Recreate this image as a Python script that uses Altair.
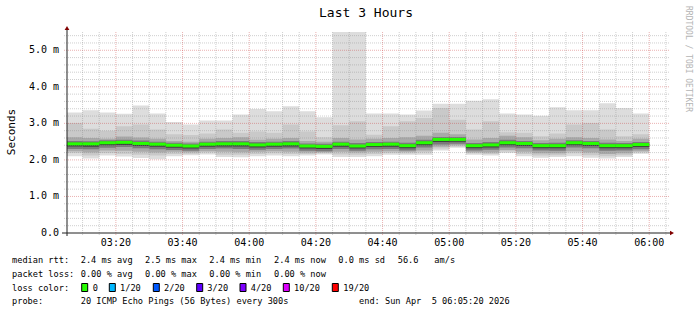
import altair as alt
import pandas as pd

FONT = "DejaVu Sans Mono"

# ---------------- data ----------------
bar_start = ["03:05", "03:10", "03:15", "03:20", "03:25", "03:30", "03:35", "03:40", "03:45",
             "03:50", "03:55", "04:00", "04:05", "04:10", "04:15", "04:20", "04:25", "04:30",
             "04:35", "04:40", "04:45", "04:50", "04:55", "05:00", "05:05", "05:10", "05:15",
             "05:20", "05:25", "05:30", "05:35", "05:40", "05:45", "05:50", "05:55"]

# median rtt (ms)
med = [2.44, 2.44, 2.47, 2.48, 2.45, 2.43, 2.40, 2.38, 2.43, 2.44, 2.44, 2.41, 2.43, 2.44, 2.38,
       2.37, 2.43, 2.38, 2.42, 2.43, 2.39, 2.47, 2.56, 2.56, 2.39, 2.41, 2.47, 2.45, 2.39, 2.39,
       2.47, 2.45, 2.39, 2.39, 2.42]
# smoke bands (ms): outermost -> innermost
p_max = [3.30, 3.36, 3.30, 3.26, 3.49, 3.27, 3.04, 2.97, 3.08, 3.08, 3.24, 3.39, 3.33, 3.47, 3.33,
         3.17, 5.52, 5.52, 3.27, 3.27, 3.24, 3.35, 3.54, 3.54, 3.62, 3.66, 3.27, 3.24, 3.21, 3.44,
         3.36, 3.36, 3.55, 3.42, 3.27]
p_min = [2.10, 2.04, 2.12, 2.09, 2.05, 2.02, 2.10, 2.13, 2.15, 2.08, 2.07, 2.10, 2.12, 2.10, 2.12,
         2.15, 2.08, 2.08, 2.10, 2.14, 2.14, 2.14, 2.26, 2.33, 2.14, 2.12, 2.19, 2.10, 2.06, 2.08,
         2.10, 2.06, 2.04, 2.08, 2.17]
hi2 = [3.01, 2.85, 2.80, 2.92, 2.97, 2.83, 2.70, 2.68, 2.72, 2.83, 2.74, 2.78, 2.74, 2.97, 2.78,
       2.62, 2.95, 3.06, 2.69, 2.92, 3.06, 3.15, 3.42, 3.10, 2.83, 3.06, 2.76, 2.74, 2.65, 2.72,
       2.97, 3.01, 2.83, 2.65, 2.70]
lo2 = [2.19, 2.12, 2.19, 2.17, 2.14, 2.12, 2.16, 2.17, 2.20, 2.14, 2.14, 2.16, 2.18, 2.16, 2.16,
       2.18, 2.15, 2.14, 2.16, 2.19, 2.18, 2.20, 2.31, 2.36, 2.18, 2.16, 2.23, 2.16, 2.12, 2.13,
       2.18, 2.13, 2.10, 2.13, 2.20]
hi3 = [2.62, 2.60, 2.58, 2.64, 2.61, 2.58, 2.52, 2.50, 2.58, 2.60, 2.62, 2.55, 2.58, 2.60, 2.52,
       2.50, 2.60, 2.56, 2.58, 2.60, 2.62, 2.66, 2.74, 2.70, 2.56, 2.60, 2.66, 2.62, 2.54, 2.58,
       2.62, 2.60, 2.56, 2.52, 2.58]
lo3 = [2.24, 2.20, 2.26, 2.25, 2.22, 2.20, 2.22, 2.21, 2.24, 2.22, 2.21, 2.22, 2.24, 2.22, 2.20,
       2.21, 2.22, 2.20, 2.22, 2.24, 2.22, 2.26, 2.36, 2.40, 2.21, 2.20, 2.27, 2.22, 2.18, 2.18,
       2.24, 2.20, 2.16, 2.18, 2.24]
hi4 = [2.52, 2.51, 2.54, 2.55, 2.53, 2.50, 2.47, 2.45, 2.50, 2.52, 2.52, 2.49, 2.50, 2.52, 2.45,
       2.44, 2.50, 2.46, 2.49, 2.50, 2.47, 2.55, 2.63, 2.63, 2.46, 2.49, 2.55, 2.52, 2.46, 2.47,
       2.54, 2.52, 2.47, 2.46, 2.49]
lo4 = [2.30, 2.29, 2.33, 2.35, 2.32, 2.29, 2.27, 2.25, 2.30, 2.31, 2.30, 2.28, 2.30, 2.31, 2.25,
       2.24, 2.30, 2.25, 2.29, 2.30, 2.26, 2.34, 2.42, 2.44, 2.26, 2.28, 2.34, 2.32, 2.26, 2.25,
       2.34, 2.32, 2.25, 2.26, 2.29]
hi5 = [2.47, 2.47, 2.50, 2.51, 2.48, 2.46, 2.43, 2.41, 2.46, 2.47, 2.47, 2.44, 2.46, 2.47, 2.41,
       2.40, 2.46, 2.41, 2.45, 2.46, 2.42, 2.50, 2.59, 2.59, 2.42, 2.44, 2.50, 2.48, 2.42, 2.42,
       2.50, 2.48, 2.42, 2.42, 2.45]
lo5 = [2.37, 2.36, 2.40, 2.41, 2.38, 2.36, 2.33, 2.31, 2.36, 2.37, 2.37, 2.34, 2.36, 2.37, 2.31,
       2.30, 2.36, 2.31, 2.35, 2.36, 2.32, 2.40, 2.49, 2.50, 2.32, 2.34, 2.40, 2.38, 2.32, 2.32,
       2.40, 2.38, 2.32, 2.32, 2.35]

x_tick_labels = ["03:20", "03:40", "04:00", "04:20", "04:40", "05:00", "05:20", "05:40", "06:00"]
y_tick_values = [0, 1, 2, 3, 4, 5]
y_tick_labels = ["0.0", "1.0 m", "2.0 m", "3.0 m", "4.0 m", "5.0 m"]

title_text = "Last 3 Hours"
y_title = "Seconds"
side_text = "RRDTOOL / TOBI OETIKER"

leg_line1 = ["median rtt:", "2.4 ms avg", "2.5 ms max", "2.4 ms min", "2.4 ms now", "0.0 ms sd", "56.6", "am/s"]
leg_line2 = ["packet loss:", "0.00 % avg", "0.00 % max", "0.00 % min", "0.00 % now"]
leg_line3 = ["loss color:"]
loss_labels = ["0", "1/20", "2/20", "3/20", "4/20", "10/20", "19/20"]
loss_colors = ["#26ff00", "#00b8ff", "#0059ff", "#5e00ff", "#7e00ff", "#dd00ff", "#ff0000"]
leg_line4 = ["probe:", "20 ICMP Echo Pings (56 Bytes) every 300s", "end: Sun Apr\u00a0 5 06:05:20 2026"]

# ---------------- layout ----------------
W, H = 600, 201
PL, PT = 67, 32


def to_min(s):
    h, m = s.split(":")
    return int(h) * 60 + int(m)


x0 = to_min("03:05") + 20 / 60
x1 = to_min("06:05") + 20 / 60
xs = alt.Scale(domain=[x0, x1], nice=False, zero=False)
ys = alt.Scale(domain=[0, 5.5], nice=False, zero=False)

starts = [to_min(s) for s in bar_start]
df = pd.DataFrame({
    "t0": starts, "t1": [s + 5 for s in starts], "med": med,
    "mn": p_min, "mx": p_max, "lo2": lo2, "hi2": hi2, "lo3": lo3, "hi3": hi3,
    "lo4": lo4, "hi4": hi4, "lo5": lo5, "hi5": hi5,
})
# step areas: repeat final bar values at its end time
end_row = df.iloc[[-1]].copy()
end_row["t0"] = end_row["t1"]
dfa = pd.concat([df, end_row], ignore_index=True)

layers = []
bands = [("mn", "mx", "#dddddd"), ("lo2", "hi2", "#c9c9c9"), ("lo3", "hi3", "#a9a9a9"),
         ("lo4", "hi4", "#7a7a7a"), ("lo5", "hi5", "#404040")]
for lo, hi, col in bands:
    layers.append(
        alt.Chart(dfa).mark_area(interpolate="step-after", clip=True, color=col).encode(
            x=alt.X("t0:Q", scale=xs, axis=None),
            y=alt.Y(f"{lo}:Q", scale=ys, axis=None),
            y2=f"{hi}:Q",
        )
    )

# grid
minor_y = [v / 10 for v in range(2, 55, 2) if v % 10 != 0]
major_y = [v for v in y_tick_values if v > 0]
minor_x = [m for m in range(to_min("03:10"), to_min("06:05") + 1, 5) if (m % 20) != 0]
major_x = [to_min(s) for s in x_tick_labels]

GRID = dict(color="#8c8c8c", strokeOpacity=0.42, strokeDash=[1, 1], strokeWidth=1)
MGRID = dict(color="#c83232", strokeOpacity=0.38, strokeDash=[1, 1], strokeWidth=1)

layers.append(alt.Chart(pd.DataFrame({"v": minor_y})).mark_rule(**GRID).encode(
    y=alt.Y("v:Q", scale=ys, axis=None), x=alt.value(-3), x2=alt.value(W + 3)))
layers.append(alt.Chart(pd.DataFrame({"t": minor_x})).mark_rule(**GRID).encode(
    x=alt.X("t:Q", scale=xs, axis=None), y=alt.value(0), y2=alt.value(H + 3)))
layers.append(alt.Chart(pd.DataFrame({"v": major_y})).mark_rule(**MGRID).encode(
    y=alt.Y("v:Q", scale=ys, axis=None), x=alt.value(-3), x2=alt.value(W + 3)))
layers.append(alt.Chart(pd.DataFrame({"t": major_x})).mark_rule(**MGRID).encode(
    x=alt.X("t:Q", scale=xs, axis=None), y=alt.value(0), y2=alt.value(H + 3)))

# median line
layers.append(alt.Chart(df).mark_rule(strokeWidth=3, color=loss_colors[0], clip=True).encode(
    x=alt.X("t0:Q", scale=xs, axis=None), x2="t1:Q",
    y=alt.Y("med:Q", scale=ys, axis=None)))

one = pd.DataFrame({"k": [0]})

# axes lines + arrows
layers.append(alt.Chart(one).mark_rule(color="#202020", strokeWidth=1).encode(
    x=alt.value(-5), x2=alt.value(W + 4), y=alt.value(H)))
layers.append(alt.Chart(one).mark_rule(color="#202020", strokeWidth=1).encode(
    x=alt.value(0), y=alt.value(H + 3), y2=alt.value(-2)))
layers.append(alt.Chart(one).mark_point(shape="triangle-up", filled=True, color="#800000",
                                        size=22, opacity=1).encode(
    x=alt.value(0), y=alt.value(-4)))
layers.append(alt.Chart(one).mark_point(shape="triangle-right", filled=True, color="#800000",
                                        size=22, opacity=1).encode(
    x=alt.value(W + 5), y=alt.value(H)))

# axis labels through scales
layers.append(alt.Chart(pd.DataFrame({"t": major_x, "lab": x_tick_labels})).mark_text(
    font=FONT, fontSize=10, color="black", baseline="middle", align="center").encode(
    x=alt.X("t:Q", scale=xs, axis=None), y=alt.value(H + 10), text="lab:N"))
layers.append(alt.Chart(pd.DataFrame({"v": y_tick_values, "lab": y_tick_labels})).mark_text(
    font=FONT, fontSize=10, color="black", baseline="middle", align="right").encode(
    y=alt.Y("v:Q", scale=ys, axis=None), x=alt.value(-8), text="lab:N"))


def label(txt, x, y, size=8.65, color="black", align="left", angle=0, baseline="middle"):
    return alt.Chart(one).mark_text(font=FONT, fontSize=size, color=color, align=align,
                                    baseline=baseline, angle=angle).encode(
        x=alt.value(x - PL), y=alt.value(y - PT), text=alt.value(txt))


layers.append(label(title_text, 366, 13, size=13, align="center"))
layers.append(label(y_title, 12, 132, size=11, align="center", angle=270))
layers.append(label(side_text, 688, 59, size=8, color="#b4b4b4", align="center", angle=90))

row_y = [260, 273.5, 287.5, 301]
x_cols = [12, 80.7, 145, 209.3, 274, 338.3, 397.7, 434.3]
for txt, x in zip(leg_line1, x_cols):
    layers.append(label(txt, x, row_y[0]))
for txt, x in zip(leg_line2, x_cols):
    layers.append(label(txt, x, row_y[1]))
layers.append(label(leg_line3[0], 12, row_y[2]))
sq_x = [81.7, 109.3, 153.3, 196.7, 240, 283.3, 332.3]
lab_x = [92.7, 120, 164, 207.3, 250.7, 294, 343.3]
for txt, col, sx, lx in zip(loss_labels, loss_colors, sq_x, lab_x):
    layers.append(alt.Chart(one).mark_rect(color=col, stroke="black", strokeWidth=1).encode(
        x=alt.value(sx - PL), x2=alt.value(sx - PL + 6),
        y=alt.value(283.5 - PT), y2=alt.value(291.5 - PT)))
    layers.append(label(txt, lx, row_y[2]))
for txt, x in zip(leg_line4, [12, 80.7, 359]):
    layers.append(label(txt, x, row_y[3]))

chart = alt.layer(*layers).properties(
    width=W, height=H,
    autosize=alt.AutoSizeParams(type="none"),
    padding={"left": PL, "top": PT, "right": 697 - PL - W, "bottom": 315 - PT - H},
    background="white",
).configure_view(strokeWidth=0)

chart.save("out.html", embed_options={"renderer": "svg", "actions": False})
